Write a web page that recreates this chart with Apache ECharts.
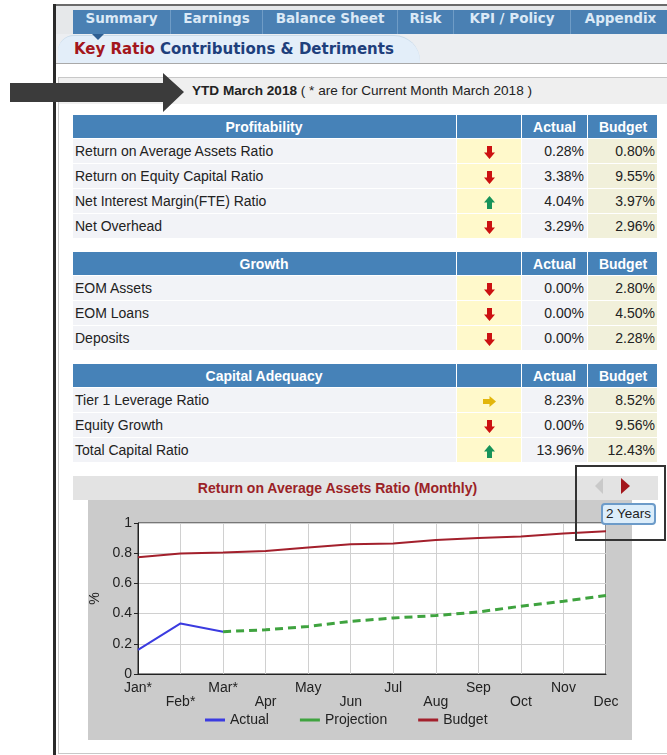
<!DOCTYPE html>
<html>
<head>
<meta charset="utf-8">
<title>Key Ratio Contributions &amp; Detriments</title>
<script src="https://cdn.jsdelivr.net/npm/echarts@6/dist/echarts.min.js"></script>
<style>
    body { margin: 0; width: 667px; height: 755px; position: relative; overflow: hidden; background: #fff;
           font-family: "Liberation Sans", Arial, sans-serif; color: #222; }
    .abs { position: absolute; }
    #tabs { left: 73px; top: 10px; height: 24px; width: 600px; background: #4a80b3; display: flex; }
    #tabs div { height: 24px; line-height: 24px; text-align: center; color: #dbe9f6; font: bold 13.5px "DejaVu Sans", Verdana, sans-serif;
                border-right: 1px solid #6f9cc6; box-sizing: border-box; }
    #subTab { left: 58px; top: 35px; width: 362px; height: 28px; background: #e3eef9; border-radius: 16px 26px 0 0;
              border-top: 1px solid #c9dbea; box-sizing: border-box; font: bold 15px "DejaVu Sans", Verdana, sans-serif;
              line-height: 27px; padding-left: 16px; color: #1e3f7c; }
    #subTab b { color: #a3161c; }
    table.kr { position: absolute; left: 72px; border-collapse: separate; border-spacing: 1px; table-layout: fixed; width: 586px;
               background: #fff; font-size: 14px; }
    table.kr td { box-sizing: border-box; padding: 0 3px; height: 24px; white-space: nowrap; overflow: hidden; }
    table.kr tr.hd td { height: 23px; background: #4682b8; color: #fff; font-weight: bold; text-align: center; }
    table.kr td.c-name { width: 383px; background: #f2f3f7; padding-left: 2px; }
    table.kr td.c-trend { width: 64px; background: #fff9cb; text-align: center; }
    table.kr td.c-act { width: 65px; background: #f2f3f7; text-align: right; }
    table.kr td.c-bud { width: 69px; background: #f1f0da; text-align: right; padding-right: 2px; }
    table.kr tr.hd td.c-name, table.kr tr.hd td.c-trend, table.kr tr.hd td.c-act, table.kr tr.hd td.c-bud { background: #4682b8; text-align: center; }
    table.kr td svg { vertical-align: middle; }
</style>
</head>
<body>

<!-- outer frame -->
<div class="abs" style="left:55px;top:4px;width:612px;height:30px;background:#e6e8ea;border-top:2px solid #6b6b6b;box-sizing:border-box;"></div>
<div class="abs" id="tabs"></div>
<div class="abs" style="left:56px;top:34px;width:611px;height:29px;background:#eceef1;border-bottom:1px solid #a9a9a9;"></div>
<div class="abs" id="subTab"><b>Key Ratio</b> Contributions &amp; Detriments</div>
<div class="abs" style="left:92px;top:34px;width:0;height:0;border-left:6px solid transparent;border-right:6px solid transparent;border-top:6px solid #2f5f93;"></div>

<!-- content box -->
<div class="abs" style="left:58px;top:77px;width:620px;height:675px;border:1px solid #c8c8c8;"></div>
<div class="abs" style="left:59px;top:78px;width:608px;height:26px;background:#efefef;"></div>
<div class="abs" style="left:192px;top:78px;line-height:26px;font-size:13.6px;"><b>YTD March 2018</b> ( * are for Current Month March 2018 )</div>

<!-- chart header -->
<div class="abs" style="left:73px;top:476px;width:585px;height:24px;background:#e3e3e3;"></div>
<div class="abs" style="left:73px;top:476px;width:529px;line-height:24px;text-align:center;font-size:14px;font-weight:bold;color:#9b2226;">Return on Average Assets Ratio (Monthly)</div>
<div class="abs" style="left:595px;top:478px;width:0;height:0;border-top:8px solid transparent;border-bottom:8px solid transparent;border-right:8px solid #c9c9c9;"></div>
<div class="abs" style="left:621px;top:478px;width:0;height:0;border-top:8px solid transparent;border-bottom:8px solid transparent;border-left:9px solid #a3161c;"></div>

<div class="abs" id="roaaChart" style="left:88px;top:500px;width:544px;height:240px;"></div>

<div class="abs" style="left:601px;top:503px;width:55px;height:22px;background:#dcedfa;border:2px solid #6c9bc9;border-radius:4px;box-sizing:border-box;font-size:13.5px;line-height:18px;text-align:center;">2 Years</div>
<div class="abs" style="left:575px;top:465px;width:91px;height:76px;border:2.5px solid #333;box-sizing:border-box;"></div>

<div class="abs" style="left:53px;top:4px;width:2.5px;height:751px;background:#2a2a2a;"></div>
<svg class="abs" style="left:0;top:60px;" width="200" height="60">
    <polygon points="10,23 163,23 163,13 184,32 163,52 163,42 10,42" fill="#3b3b3b"/>
</svg>

<script>
// tabs along the top
const tabNames = ['Summary', 'Earnings', 'Balance Sheet', 'Risk', 'KPI / Policy', 'Appendix'];
const tabWidths = [98, 92, 135, 56, 117, 100];

// key ratio tables
const profitabilityRows = ['Return on Average Assets Ratio', 'Return on Equity Capital Ratio', 'Net Interest Margin(FTE) Ratio', 'Net Overhead'];
const profitabilityTrend = ['down', 'down', 'up', 'down'];
const profitabilityActual = ['0.28%', '3.38%', '4.04%', '3.29%'];
const profitabilityBudget = ['0.80%', '9.55%', '3.97%', '2.96%'];

const growthRows = ['EOM Assets', 'EOM Loans', 'Deposits'];
const growthTrend = ['down', 'down', 'down'];
const growthActual = ['0.00%', '0.00%', '0.00%'];
const growthBudget = ['2.80%', '4.50%', '2.28%'];

const capitalRows = ['Tier 1 Leverage Ratio', 'Equity Growth', 'Total Capital Ratio'];
const capitalTrend = ['flat', 'down', 'up'];
const capitalActual = ['8.23%', '0.00%', '13.96%'];
const capitalBudget = ['8.52%', '9.56%', '12.43%'];

// monthly ROAA chart
const months = ['Jan*', 'Feb*', 'Mar*', 'Apr', 'May', 'Jun', 'Jul', 'Aug', 'Sep', 'Oct', 'Nov', 'Dec'];
const actualRoaa = [0.16, 0.335, 0.28, null, null, null, null, null, null, null, null, null];
const projectionRoaa = [null, null, 0.28, 0.293, 0.315, 0.349, 0.371, 0.387, 0.411, 0.449, 0.482, 0.52];
const budgetRoaa = [0.773, 0.798, 0.805, 0.815, 0.838, 0.86, 0.865, 0.887, 0.90, 0.91, 0.93, 0.945];

function drawTabs() {
    var str = '';
    for (var i = 0; i < tabNames.length; i++) {
        str += '<div style="width:' + tabWidths[i] + 'px">' + tabNames[i] + '</div>';
    }
    document.getElementById('tabs').innerHTML = str;
}

// small arrow icons for the trend column
function trendIcon(kind) {
    if (kind === 'up') {
        return '<svg width="11" height="13"><polygon points="5.5,0 11,6.5 8,6.5 8,13 3,13 3,6.5 0,6.5" fill="#17935a"/></svg>';
    }
    if (kind === 'flat') {
        return '<svg width="13" height="11"><polygon points="0,3 6.5,3 6.5,0 13,5.5 6.5,11 6.5,8 0,8" fill="#e2b60c"/></svg>';
    }
    return '<svg width="11" height="13"><polygon points="3,0 8,0 8,6.5 11,6.5 5.5,13 0,6.5 3,6.5" fill="#cc1111"/></svg>';
}

function drawTable(top, title, rows, trend, actual, budget) {
    var str = '<table class="kr" style="top:' + top + 'px">';
    str += '<tr class="hd"><td class="c-name">' + title + '</td><td class="c-trend"></td><td class="c-act">Actual</td><td class="c-bud">Budget</td></tr>';
    for (var i = 0; i < rows.length; i++) {
        str += '<tr><td class="c-name">' + rows[i] + '</td><td class="c-trend">' + trendIcon(trend[i]) + '</td>'
            + '<td class="c-act">' + actual[i] + '</td><td class="c-bud">' + budget[i] + '</td></tr>';
    }
    str += '</table>';
    document.body.insertAdjacentHTML('beforeend', str);
}

function drawChart() {
    var chart = echarts.init(document.getElementById('roaaChart'));
    var option = {
        backgroundColor: '#cbcbcb',
        animation: false,
        textStyle: { fontFamily: '"Liberation Sans", Arial, sans-serif' },
        grid: {
            left: 50, right: 26, top: 23, bottom: 66,
            outerBoundsMode: 'none',
            show: true, backgroundColor: '#fff', borderColor: '#222', borderWidth: 1
        },
        legend: {
            left: 117, top: 213, padding: 0,
            icon: 'rect', itemWidth: 20, itemHeight: 3, itemGap: 31,
            textStyle: { color: '#222', fontSize: 14 },
            data: ['Actual', 'Projection', 'Budget']
        },
        xAxis: {
            type: 'category',
            data: months,
            boundaryGap: false,
            axisLine: { lineStyle: { color: '#222' } },
            axisTick: { show: false },
            splitLine: { show: true, lineStyle: { color: '#d0d0d0' } },
            axisLabel: {
                interval: 0, color: '#222', fontSize: 14, margin: 7, lineHeight: 14,
                // every second month drops to a lower row
                formatter: function (value, index) {
                    return index % 2 ? '\n' + value : value;
                }
            }
        },
        yAxis: {
            type: 'value',
            min: 0, max: 1, interval: 0.2,
            name: '%', nameLocation: 'middle', nameGap: 36, nameRotate: 90, nameMoveOverlap: false,
            nameTextStyle: { color: '#222', fontSize: 14 },
            axisLine: { show: true, lineStyle: { color: '#222' } },
            axisTick: { show: true, length: 4, lineStyle: { color: '#222' } },
            splitLine: { lineStyle: { color: '#d0d0d0' } },
            axisLabel: { color: '#222', fontSize: 14, margin: 6 }
        },
        series: [{
            name: 'Actual',
            type: 'line',
            data: actualRoaa,
            symbol: 'none',
            color: '#3b3be0',
            lineStyle: { width: 2, color: '#3b3be0' }
        }, {
            name: 'Projection',
            type: 'line',
            data: projectionRoaa,
            symbol: 'none',
            color: '#3fa33f',
            lineStyle: { width: 3, color: '#3fa33f', type: [8, 5] }
        }, {
            name: 'Budget',
            type: 'line',
            data: budgetRoaa,
            symbol: 'none',
            color: '#a3202c',
            lineStyle: { width: 2, color: '#a3202c' }
        }]
    };
    chart.setOption(option);
}

drawTabs();
drawTable(114, 'Profitability', profitabilityRows, profitabilityTrend, profitabilityActual, profitabilityBudget);
drawTable(251, 'Growth', growthRows, growthTrend, growthActual, growthBudget);
drawTable(363, 'Capital Adequacy', capitalRows, capitalTrend, capitalActual, capitalBudget);
drawChart();
</script>
</body>
</html>
